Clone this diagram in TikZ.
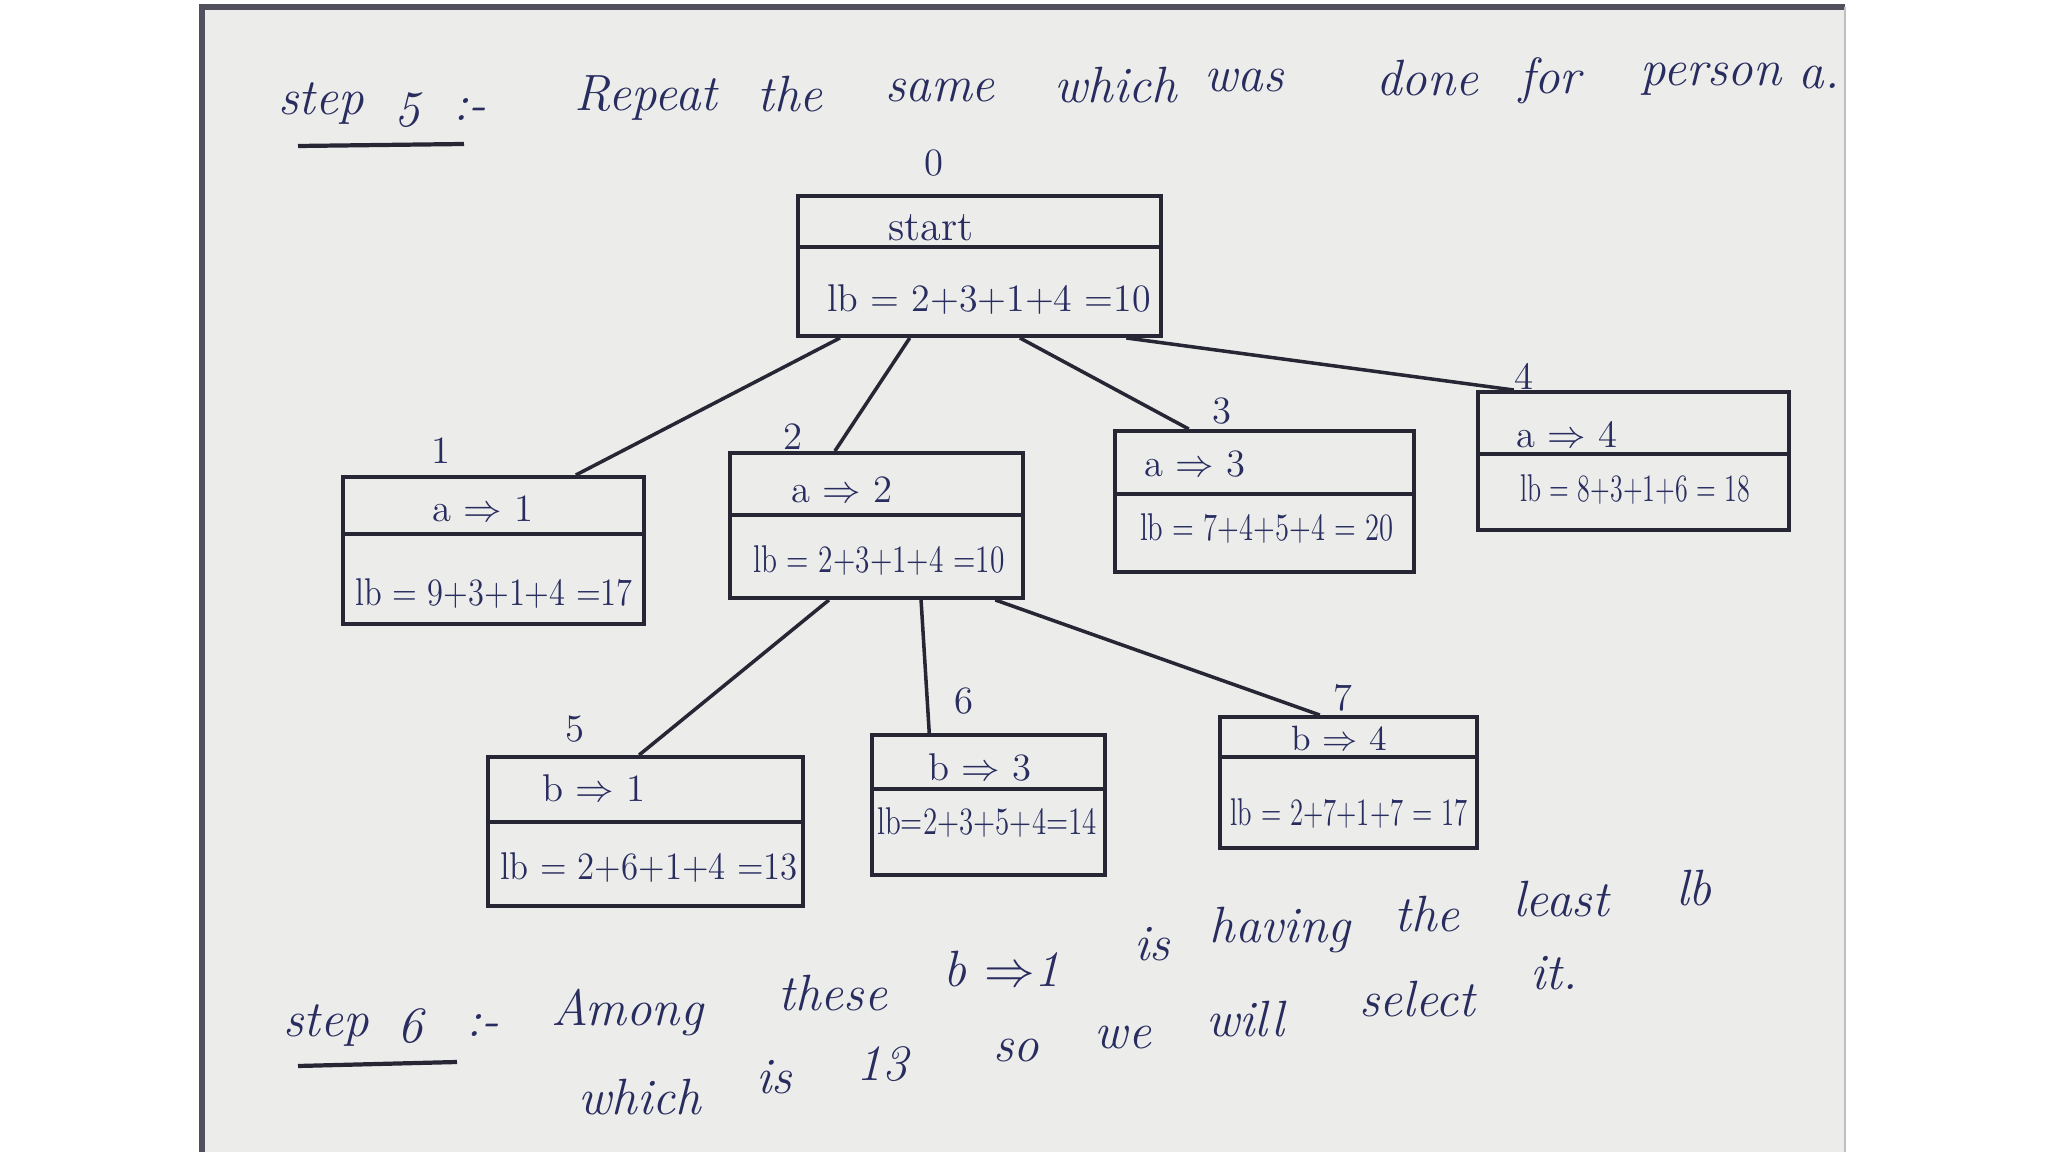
\documentclass[tikz,border=0pt]{standalone}
\usepackage{graphicx}
\usetikzlibrary{calc}
\definecolor{paper}{RGB}{236,237,234}
\definecolor{ink}{RGB}{40,44,95}
\definecolor{pen}{RGB}{38,38,52}
\newcommand\sqz[2]{\scalebox{#1}[1]{#2}}
\begin{document}
\begin{tikzpicture}[x=0.01cm,y=-0.01cm,
  box/.style={draw=pen,line width=1.1pt,inner sep=0pt},
  divline/.style={draw=pen,line width=1.1pt},
  edge/.style={draw=pen,line width=1pt},
  lbl/.style={text=ink,inner sep=1pt,font=\fontsize{11}{13}\selectfont},
  lbt/.style={text=ink,inner sep=1pt,font=\fontsize{11}{13}\selectfont},
  num/.style={text=ink,inner sep=1pt,font=\fontsize{11}{13}\selectfont},
  wrd/.style={text=ink,inner sep=1pt,font=\fontsize{14.5}{17}\selectfont\itshape}]
\useasboundingbox (0,0) rectangle (2048,1152);
\fill[white] (0,0) rectangle (2048,1152);
\fill[paper] (202,7) rectangle (1845,1152);
\draw[pen!80,line width=1.6pt] (202,1152) -- (202,7) -- (1845,7);
\draw[gray!50,line width=0.8pt] (1845,7) -- (1845,1152);

% title
\node[wrd] (t1a) at (321,104) {step};
\node[wrd] (t1b) at (407,110) {5};
\node[wrd] (t1c) at (470,110) {:-};
\draw[pen,line width=1.2pt] (298,146) -- (464,144);
\node[wrd] (t2) at (646,98) {Repeat};
\node[wrd] (t3) at (790,94) {the};
\node[wrd] (t4) at (940,91) {same};
\node[wrd] (t5) at (1116,85) {which};
\node[wrd] (t6) at (1244,81) {was};
\node[wrd] (t7) at (1427,78) {done};
\node[wrd] (t8) at (1550,81) {for};
\node[wrd] (t9) at (1711,79) {person};
\node[wrd] (t10) at (1819,78) {a.};

% start box
\node[num] (l0) at (934,163) {0};
\node[box,minimum width=3.63cm,minimum height=1.40cm] (s) at (979.5,266) {};
\draw[divline] ($(s.north west)!0.37!(s.south west)$) -- ($(s.north east)!0.37!(s.south east)$);
\node[lbt,font=\fontsize{12}{14}\selectfont] (st) at (931,228) {start};
\node[lbl] (sb) at (989,300) {\sqz{0.98}{lb = 2+3+1+4 =10}};

% level 1
\node[num] (l1) at (441,451) {1};
\node[box,minimum width=3.01cm,minimum height=1.47cm] (n1) at (493.5,550.5) {};
\draw[divline] ($(n1.north west)!0.39!(n1.south west)$) -- ($(n1.north east)!0.39!(n1.south east)$);
\node[lbt] (n1t) at (483,509) {a $\Rightarrow$ 1};
\node[lbl] (n1b) at (494,594) {\sqz{0.84}{lb = 9+3+1+4 =17}};

\node[num] (l2) at (793,437) {2};
\node[box,minimum width=2.93cm,minimum height=1.45cm] (n2) at (876.5,525.5) {};
\draw[divline] ($(n2.north west)!0.43!(n2.south west)$) -- ($(n2.north east)!0.43!(n2.south east)$);
\node[lbt] (n2t) at (842,490) {a $\Rightarrow$ 2};
\node[lbl] (n2b) at (879,561) {\sqz{0.76}{lb = 2+3+1+4 =10}};

\node[num] (l3) at (1222,411) {3};
\node[box,minimum width=2.99cm,minimum height=1.41cm] (n3) at (1264.5,501.5) {};
\draw[divline] ($(n3.north west)!0.45!(n3.south west)$) -- ($(n3.north east)!0.45!(n3.south east)$);
\node[lbt] (n3t) at (1195,464) {a $\Rightarrow$ 3};
\node[lbl] (n3b) at (1267,529) {\sqz{0.74}{lb = 7+4+5+4 = 20}};

\node[num] (l4) at (1524,376) {4};
\node[box,minimum width=3.11cm,minimum height=1.38cm] (n4) at (1633.5,461) {};
\draw[divline] ($(n4.north west)!0.45!(n4.south west)$) -- ($(n4.north east)!0.45!(n4.south east)$);
\node[lbt] (n4t) at (1567,435) {a $\Rightarrow$ 4};
\node[lbl] (n4b) at (1635,490) {\sqz{0.67}{lb = 8+3+1+6 = 18}};

% level 2
\node[num] (l5) at (575,729) {5};
\node[box,minimum width=3.15cm,minimum height=1.49cm] (n5) at (645.5,831.5) {};
\draw[divline] ($(n5.north west)!0.44!(n5.south west)$) -- ($(n5.north east)!0.44!(n5.south east)$);
\node[lbt] (n5t) at (594,788) {b $\Rightarrow$ 1};
\node[lbl] (n5b) at (649,868) {\sqz{0.9}{lb = 2+6+1+4 =13}};

\node[num] (l6) at (964,701) {6};
\node[box,minimum width=2.33cm,minimum height=1.40cm] (n6) at (988.5,805) {};
\draw[divline] ($(n6.north west)!0.39!(n6.south west)$) -- ($(n6.north east)!0.39!(n6.south east)$);
\node[lbt] (n6t) at (980,767) {b $\Rightarrow$ 3};
\node[lbl] (n6b) at (987,823) {\sqz{0.75}{lb=2+3+5+4=14}};

\node[num] (l7) at (1343,698) {7};
\node[box,minimum width=2.57cm,minimum height=1.31cm] (n7) at (1348.5,782.5) {};
\draw[divline] ($(n7.north west)!0.31!(n7.south west)$) -- ($(n7.north east)!0.31!(n7.south east)$);
\node[lbt,font=\fontsize{10}{12}\selectfont] (n7t) at (1339,738) {b $\Rightarrow$ 4};
\node[lbl] (n7b) at (1349,814) {\sqz{0.69}{lb = 2+7+1+7 = 17}};

% edges
\draw[edge] ($(s.south west)!0.12!(s.south east)$) -- ($(n1.north west)!0.77!(n1.north east)$);
\draw[edge] ($(s.south west)!0.31!(s.south east)$) -- ($(n2.north west)!0.36!(n2.north east)$);
\draw[edge] ($(s.south west)!0.61!(s.south east)$) -- ($(n3.north west)!0.25!(n3.north east)$);
\draw[edge] ($(s.south west)!0.90!(s.south east)$) -- ($(n4.north west)!0.12!(n4.north east)$);
\draw[edge] ($(n2.south west)!0.34!(n2.south east)$) -- ($(n5.north west)!0.48!(n5.north east)$);
\draw[edge] ($(n2.south west)!0.65!(n2.south east)$) -- ($(n6.north west)!0.25!(n6.north east)$);
\draw[edge] ($(n2.south west)!0.90!(n2.south east)$) -- ($(n7.north west)!0.39!(n7.north east)$);

% step 6
\node[wrd] (u1a) at (326,1026) {step};
\node[wrd] (u1b) at (410,1026) {6};
\node[wrd] (u1c) at (483,1026) {:-};
\draw[pen,line width=1.2pt] (298,1066) -- (457,1062);
\node[wrd] (w1) at (627,1012) {Among};
\node[wrd] (w2) at (833,993) {these};
\node[wrd] (w3) at (1002,969) {b $\Rightarrow$1};
\node[wrd] (w4) at (1152,944) {is};
\node[wrd] (w5) at (1280,930) {having};
\node[wrd] (w6) at (1427,914) {the};
\node[wrd] (w7) at (1561,899) {least};
\node[wrd] (w8) at (1694,888) {lb};
\node[wrd] (v1) at (640,1097) {which};
\node[wrd] (v2) at (774,1077) {is};
\node[wrd] (v3) at (882,1064) {13};
\node[wrd] (v4) at (1016,1051) {so};
\node[wrd] (v5) at (1123,1038) {we};
\node[wrd] (v6) at (1245,1019) {will};
\node[wrd] (v7) at (1417,999) {select};
\node[wrd] (v8) at (1554,973) {it.};
\end{tikzpicture}
\end{document}
